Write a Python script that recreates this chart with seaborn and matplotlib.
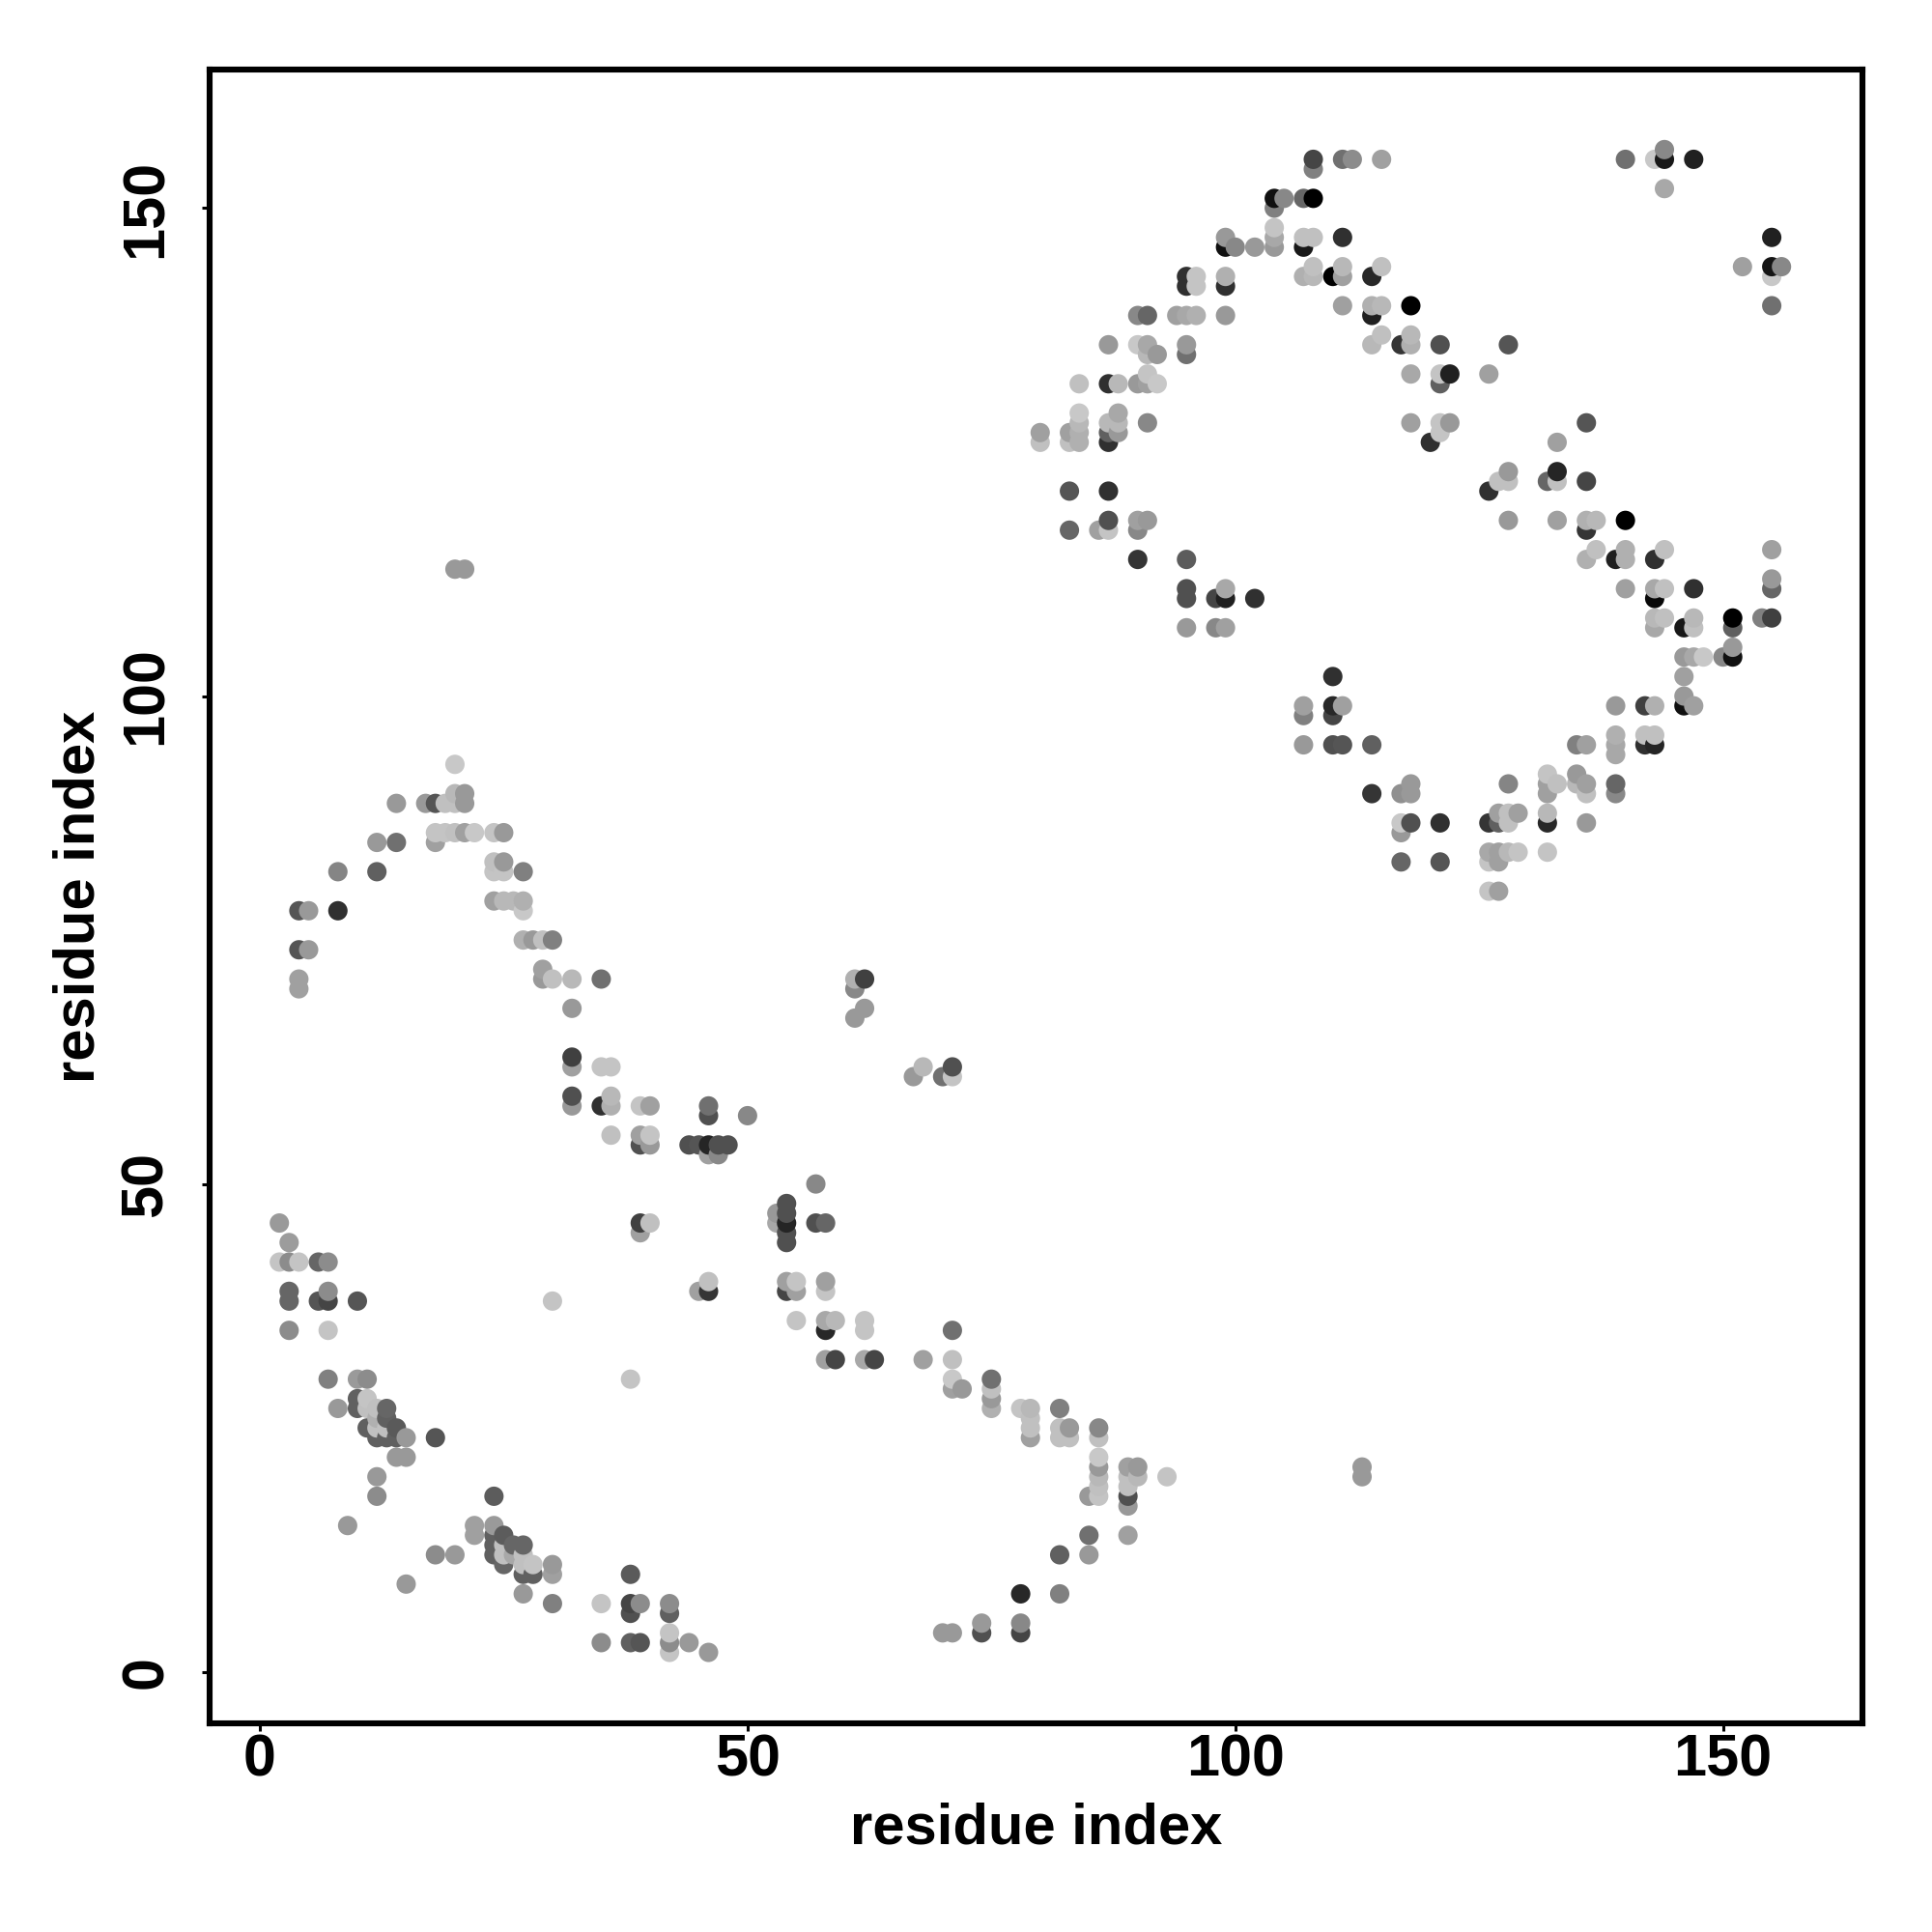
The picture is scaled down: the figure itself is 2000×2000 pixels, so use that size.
import matplotlib
matplotlib.use("Agg")
import matplotlib.pyplot as plt
import pandas as pd
import seaborn as sns

# contacts as (residue i, residue j, grey level 0-255)
near_origin = [
    (2,46,0x9a),(3,44,0x9c),(2,42,0xc4),(3,42,0x8c),(4,42,0xc4),(6,42,0x66),(7,42,0x8c),
    (3,39,0x66),(3,38,0x66),(6,38,0x55),(7,38,0x45),(7,39,0x8c),(10,38,0x55),(3,35,0x8c),(7,35,0xc4),
    (7,30,0x80),(10,30,0x9a),(11,30,0x8c),(8,27,0x99),(10,28,0x60),(10,27,0x60),(11,28,0xc4),(11,27,0xc0),
    (12,27,0xc0),(13,27,0x66),(13,26,0x60),(11,25,0x60),(12,26,0xb0),(12,25,0xc0),(13,25,0xc0),(14,25,0x5a),
    (12,24,0x60),(13,24,0x60),(14,24,0x60),(15,24,0x99),(18,24,0x55),(14,22,0x99),(15,22,0x99),
    (12,20,0x99),(12,18,0x8c),(9,15,0x99),
]
second_stretch = [
    (24,18,0x5c),(22,15,0xa0),(22,14,0xa0),(24,15,0x9a),(24,14,0x60),(24,13,0x60),(24,12,0x60),
    (25,14,0x5c),(26,13,0x66),(27,13,0x66),(25,13,0xc0),(25,12,0xc0),(26,12,0xa8),(25,11,0x66),
    (27,12,0xc0),(27,11,0xc0),(28,11,0xc4),(27,10,0x60),(28,10,0x60),(30,11,0x99),(30,10,0xa0),
    (18,12,0x8c),(20,12,0x99),(27,8,0x99),(30,7,0x80),(15,9,0x99),(35,7,0xc4),(38,7,0x45),(39,7,0x8c),
    (38,6,0x50),(38,10,0x5a),(42,7,0x8c),(42,6,0x60),(42,4,0xc4),(42,3,0x8c),(42,2,0xc4),(35,3,0x8c),
    (38,3,0x60),(39,3,0x55),(44,3,0x99),(46,2,0x99),
]
loose_points = [
    (39,46,0x40),(40,46,0xc0),(39,45,0xa0),(30,38,0xc4),(38,30,0xc4),(45,39,0xa0),(46,39,0x35),(46,40,0xc0),
    (61,71,0xb0),(62,71,0x40),(61,70,0x88),(61,67,0x99),(62,68,0x99),(20,113,0x99),(21,113,0x99),
    (113,21,0x99),(113,20,0x99),(67,61,0x99),(68,62,0xb8),(70,61,0x70),(71,61,0xc4),(71,62,0x50),
]
upper_arc = [
    (20,93,0xc8),(20,90,0xb8),(21,90,0x99),(21,89,0x99),(20,89,0xc0),(19,89,0xc0),(18,89,0x55),(17,89,0x99),
    (14,89,0x99),(18,86,0xc4),(19,86,0xc4),(20,86,0xc0),(21,86,0xa0),(22,86,0xc8),(24,86,0xc4),(25,86,0x99),
    (18,85,0xa0),(12,85,0x99),(14,85,0x70),(8,82,0x85),(12,82,0x60),(24,83,0xc0),(25,83,0x99),(24,82,0xc4),
    (25,82,0xc4),(27,82,0x80),(4,78,0x55),(5,78,0x99),(8,78,0x30),(24,79,0xa0),(25,79,0xb8),(26,79,0xb8),
    (27,79,0xb0),(27,78,0xc8),(4,74,0x55),(5,74,0x99),(4,71,0xa0),(4,70,0xa0),(27,75,0xb0),(28,75,0x99),
    (29,75,0xc0),(30,75,0x80),(29,72,0xa0),(29,71,0x99),(30,71,0xc0),(32,71,0xb8),(35,71,0x70),(32,68,0x99),
    (32,63,0x40),(32,62,0xa0),(35,62,0xc4),(36,62,0xc4),(32,59,0x50),(32,58,0x99),(35,58,0x30),(36,59,0xb8),
    (36,58,0xb0),(39,58,0xc4),(40,58,0xa0),(46,58,0x70),(46,57,0x50),(50,57,0x88),(36,55,0xc0),(39,55,0xa0),
    (40,55,0xc4),(39,54,0x50),(40,54,0x99),(44,54,0x50),(45,54,0x55),(46,54,0x25),(47,54,0x50),(48,54,0x50),
    (46,53,0xa0),(47,53,0x88),
]
middle_band = [
    (57,50,0x88),(54,48,0x50),(54,47,0x50),(54,46,0x25),(54,45,0x50),(54,44,0x50),(53,47,0x99),(53,46,0xa8),
    (57,46,0x50),(58,46,0x66),(54,40,0xa0),(55,40,0xc4),(54,39,0x45),(55,39,0xa0),(58,40,0xa0),(58,39,0xc4),
    (55,36,0xc4),(58,36,0xa8),(59,36,0xb8),(58,35,0x28),(62,36,0xc4),(62,35,0xc4),(71,35,0x70),
    (58,32,0xa0),(59,32,0x45),(62,32,0xa8),(63,32,0x45),(68,32,0xa0),(71,32,0xc0),(71,30,0xc8),(71,29,0xa0),
    (72,29,0x99),(75,30,0x70),(75,29,0xc0),(75,28,0x99),(75,27,0xb0),(78,27,0xc4),(79,27,0xb8),(79,26,0xc0),
    (79,25,0xc0),(79,24,0xa0),(82,27,0x80),(82,25,0xc0),(82,24,0xc0),(83,25,0x99),(83,24,0xc0),(86,25,0x88),
    (86,24,0xc0),(86,22,0xc8),(86,21,0x99),(86,20,0xb8),(86,19,0xc0),(86,18,0xc4),(85,18,0x99),(89,21,0xa0),
    (90,21,0x99),(89,20,0xc0),(90,20,0xb8),(89,19,0xc0),(89,18,0x50),(89,17,0x99),(93,20,0xc4),(85,14,0x70),
    (89,14,0xa0),(82,12,0x60),(85,12,0x99),(78,8,0x28),(82,8,0x80),(70,4,0x99),(71,4,0x99),(74,5,0x99),
    (74,4,0x50),(78,5,0x88),(78,4,0x45),
]
top_diamond_left = [
    (108,155,0x45),(108,154,0x80),(111,155,0x70),(112,155,0x8c),(115,155,0xa0),(104,151,0x10),(105,151,0x88),
    (107,151,0x66),(108,151,0x00),(104,150,0x80),(104,148,0xc4),(104,147,0xa8),(104,146,0x99),(99,147,0x99),
    (99,146,0x10),(100,146,0x88),(102,146,0x99),(107,147,0xc0),(108,147,0xc0),(107,146,0x18),(111,147,0x30),
    (95,143,0x30),(96,143,0xc4),(95,142,0x30),(96,142,0xc4),(99,143,0xb0),(99,142,0x30),(107,143,0xb0),
    (108,144,0xc0),(108,143,0xb8),(110,143,0x00),(111,144,0xb8),(111,143,0xa0),(114,143,0x28),(115,144,0xc0),
    (111,140,0xa0),(114,140,0xb0),(115,140,0xb8),(114,139,0x20),(118,140,0x00),(90,139,0x88),(91,139,0x66),
    (94,139,0xa0),(95,139,0xa8),(96,139,0xb0),(99,139,0x99),(87,136,0x99),(90,136,0xc8),(91,136,0xa8),
    (91,135,0xb8),(92,135,0x99),(95,136,0x99),(95,135,0x70),(114,136,0xb8),(115,137,0xc0),(117,136,0x35),
    (118,137,0xb8),(118,136,0xb0),(121,136,0x50),(84,132,0xc0),(87,132,0x30),(88,132,0xb8),(90,132,0x99),
    (91,133,0xc4),(91,132,0xa0),(92,132,0xc8),(118,133,0xa8),(121,133,0xc4),(122,133,0x20),(121,132,0x60),
    (84,129,0xc8),(84,128,0xb8),(84,127,0xb0),(84,126,0xb0),(83,127,0xa0),(83,126,0xc0),(80,127,0xa0),
    (80,126,0xc0),(87,128,0xb8),(88,129,0xa8),(88,128,0xb8),(88,127,0x99),(87,127,0x60),(87,126,0x30),
    (91,128,0x88),(118,128,0xa0),(121,128,0xc4),(122,128,0x99),(121,127,0xc4),(120,126,0x30),(83,121,0x55),
    (87,121,0x30),(87,118,0x50),(83,117,0x66),(86,117,0xa0),(87,117,0xc4),(90,118,0xa0),(91,118,0x99),
    (90,117,0x88),(90,114,0x35),(95,114,0x5c),(95,111,0x50),(95,110,0x50),(98,110,0x45),(99,110,0x20),
    (99,111,0xa8),(102,110,0x30),(95,107,0x99),(98,107,0x88),(99,107,0xa0),
]
top_diamond_right = [
    (140,155,0x70),(143,155,0xc8),(144,155,0x18),(144,156,0x88),(147,155,0x20),(144,152,0xa8),(155,147,0x20),
    (152,144,0xa0),(155,144,0x15),(156,144,0x88),(155,143,0xc8),(155,140,0x70),(128,136,0x55),(126,133,0xa0),
    (136,128,0x55),(133,126,0xa0),(128,123,0x99),(127,122,0xc0),(128,122,0xc0),(126,121,0x30),(133,123,0x25),
    (132,122,0x66),(133,122,0xc0),(136,122,0x45),(128,118,0x99),(133,118,0xa0),(136,118,0xb0),(137,118,0xb8),
    (136,117,0x35),(140,118,0x00),(136,114,0xb0),(137,115,0xc0),(139,114,0x20),(140,115,0xb0),(140,114,0xb0),
    (143,114,0x30),(144,115,0xc0),(155,115,0xa0),(140,111,0xa0),(143,111,0xa8),(144,111,0xc0),(143,110,0x08),
    (147,111,0x30),(155,112,0x99),(155,111,0x66),(143,108,0xb8),(144,108,0xc0),(147,108,0xb8),(146,107,0x18),
    (147,107,0xc0),(143,107,0xa8),(151,108,0x00),(151,107,0x60),(154,108,0x80),(155,108,0x40),
]
lower_diamond = [
    (146,104,0x99),(147,104,0xa8),(148,104,0xc8),(150,104,0x88),(151,104,0x10),(151,105,0x99),(146,102,0xa0),
    (146,100,0x99),(146,99,0x10),(147,99,0xa0),(139,99,0x99),(142,99,0x40),(143,99,0xb0),(139,96,0xb0),
    (139,95,0xa8),(139,94,0xa8),(142,96,0xc0),(143,96,0xc0),(142,95,0x30),(143,95,0x25),(135,95,0x80),
    (136,95,0xa0),(132,92,0xc4),(133,91,0xc0),(132,91,0xa0),(132,90,0xa0),(135,92,0x99),(135,91,0xb8),
    (136,91,0xa0),(136,90,0xc0),(139,91,0x66),(139,90,0x88),(128,91,0x85),(126,87,0x35),(127,88,0xa0),
    (127,87,0x60),(128,88,0xc0),(128,87,0xc0),(129,88,0xa0),(132,88,0xb8),(132,87,0x28),(136,87,0x99),
    (121,87,0x30),(126,84,0xa8),(127,84,0xa0),(128,84,0xb8),(129,84,0xc4),(132,84,0xc4),(126,83,0xc4),
    (127,83,0xa0),(121,83,0x55),(126,80,0xc4),(127,80,0xa0),(110,102,0x30),(107,99,0xa0),(107,98,0x80),
    (110,99,0x28),(111,99,0xa0),(110,98,0x45),(107,95,0x99),(110,95,0x50),(111,95,0x55),(114,95,0x60),
    (114,90,0x35),(117,90,0x90),(118,91,0x99),(118,90,0x99),(117,87,0xc8),(118,87,0x50),(117,86,0x99),
    (117,83,0x66),
]

tick_values = [0, 50, 100, 150]
axis_label = "residue index"

contacts = near_origin + second_stretch + loose_points + upper_arc + middle_band \
    + top_diamond_left + top_diamond_right + lower_diamond
df = pd.DataFrame(contacts, columns=["i", "j", "grey"])
df["colour"] = ["#{0:02x}{0:02x}{0:02x}".format(g) for g in df["grey"]]
# later residues sit on top of earlier ones
df = df.sort_values(["i", "j"])

sns.set_theme(style="white")
plt.rcParams["font.family"] = ["Liberation Sans", "DejaVu Sans"]
plt.rcParams["font.weight"] = "bold"

fig = plt.figure(figsize=(10, 10), dpi=200, facecolor="white")
ax = fig.add_axes([217 / 2000, 1 - 1784 / 2000, (1928 - 217) / 2000, (1784 - 72) / 2000])

sns.scatterplot(data=df, x="i", y="j", hue="colour", palette={c: c for c in df["colour"].unique()},
                s=52, linewidth=0, legend=False, ax=ax, zorder=3)

ax.set_xlim(-5.15, 164.3)
ax.set_ylim(-5.27, 164.2)
ax.set_xticks(tick_values)
ax.set_yticks(tick_values)
ax.tick_params(axis="both", bottom=True, left=True, length=3, width=1.1, color="black",
               labelcolor="black", labelsize=22)
ax.tick_params(axis="x", pad=0.8)
ax.tick_params(axis="y", pad=10)
for lab in ax.get_yticklabels():
    lab.set_rotation(90)
    lab.set_verticalalignment("center")
for lab in ax.get_xticklabels() + ax.get_yticklabels():
    lab.set_fontweight("bold")
ax.set_xlabel(axis_label, fontsize=21.5, fontweight="bold", labelpad=5, color="black")
ax.set_ylabel(axis_label, fontsize=21.5, fontweight="bold", labelpad=5, color="black")
for sp in ax.spines.values():
    sp.set_visible(True)
    sp.set_color("black")
    sp.set_linewidth(2.2)

fig.savefig("out.png", dpi=200)
